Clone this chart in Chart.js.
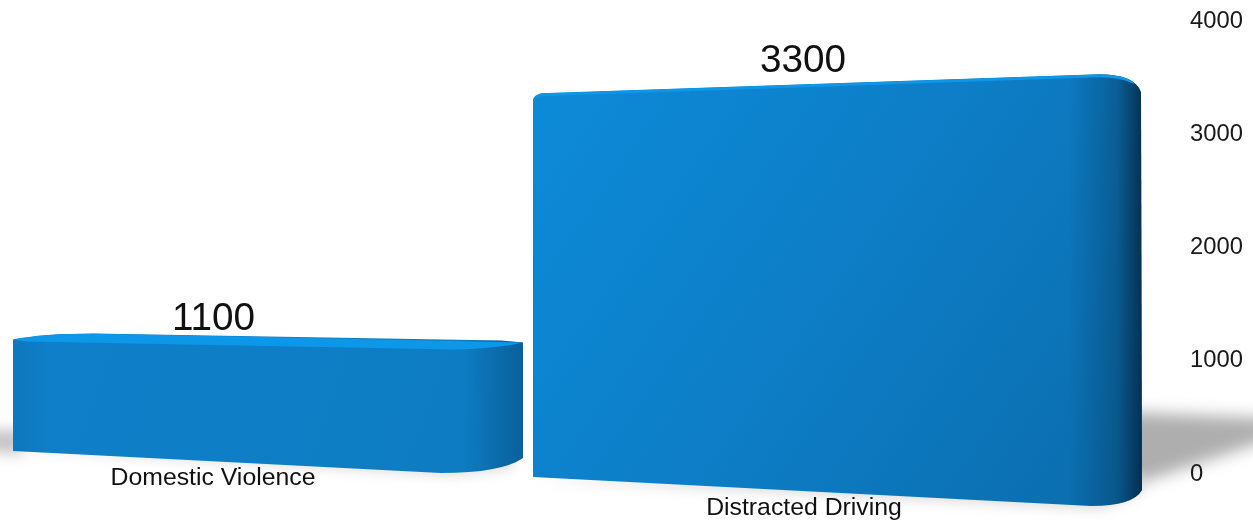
<!DOCTYPE html>
<html>
<head>
<meta charset="utf-8">
<script src="https://cdn.jsdelivr.net/npm/chart.js@4/dist/chart.umd.min.js"></script>
<style>
  html, body { margin: 0; padding: 0; background: #fff; overflow: hidden; }
  canvas { display: block; }
</style>
</head>
<body>
<canvas id="chart" width="1253" height="523"></canvas>
<script>
const categories = ["Domestic Violence", "Distracted Driving"];
const values = [1100, 3300];
const tickValues = [0, 1000, 2000, 3000, 4000];

const FONT = '"Liberation Sans", Arial, sans-serif';
const TEXT = "#1a1a1a";

// the picture is a tilted 3d render, so each bar gets its own outline around the scale position
function barOutline(ctx, i, el) {
  const T = el.y, B = el.base;
  ctx.beginPath();
  if (i === 0) {
    const L = el.x - 284.5, R = L + 510;
    ctx.moveTo(L, T - 10);
    ctx.quadraticCurveTo(L + 30, T - 16, L + 80, T - 16);
    ctx.lineTo(R - 22, T - 9);
    ctx.lineTo(R, T - 7);
    ctx.lineTo(R, B - 16);
    ctx.quadraticCurveTo(R - 22, B - 1, R - 82, B - 1);
    ctx.lineTo(L, B - 23);
    ctx.closePath();
    return { L, R };
  }
  const L = el.x - 359.5, R = L + 608;
  ctx.moveTo(L, B + 3);
  ctx.lineTo(L, T - 1);
  ctx.quadraticCurveTo(L + 1, T - 5, L + 8, T - 7);
  ctx.lineTo(R - 42, T - 26);
  ctx.quadraticCurveTo(R - 6, T - 26, R, T - 8);
  ctx.lineTo(R + 1, B + 16);
  ctx.quadraticCurveTo(R - 8, B + 32, R - 50, B + 32);
  ctx.closePath();
  return { L, R };
}

function paintBar(ctx, i, el) {
  const T = el.y, B = el.base;
  ctx.save();
  const { L, R } = barOutline(ctx, i, el);
  ctx.clip();

  const face = ctx.createLinearGradient(L, T - 20, R, B + 30);
  if (i === 0) {
    face.addColorStop(0, "#0e7fc9");
    face.addColorStop(1, "#0d7cc2");
  } else {
    face.addColorStop(0, "#0d8bd8");
    face.addColorStop(0.5, "#0d7dc6");
    face.addColorStop(1, "#0b6cac");
  }
  ctx.fillStyle = face;
  ctx.fillRect(L - 2, T - 40, R - L + 4, B - T + 80);

  // edges roll away from the light
  const edge = ctx.createLinearGradient(L, 0, R, 0);
  if (i === 0) {
    edge.addColorStop(0, "rgba(10,60,100,0.12)");
    edge.addColorStop(0.07, "rgba(10,60,100,0)");
    edge.addColorStop(0.88, "rgba(6,50,90,0)");
    edge.addColorStop(1, "rgba(6,50,90,0.38)");
  } else {
    edge.addColorStop(0, "rgba(0,30,60,0)");
    edge.addColorStop(0.88, "rgba(0,30,60,0)");
    edge.addColorStop(0.96, "rgba(3,30,50,0.28)");
    edge.addColorStop(1, "rgba(3,25,45,0.72)");
  }
  ctx.fillStyle = edge;
  ctx.fillRect(L - 2, T - 40, R - L + 4, B - T + 80);

  // lighter top face
  ctx.fillStyle = "#0d97e8";
  ctx.beginPath();
  if (i === 0) {
    ctx.moveTo(L, T - 10);
    ctx.quadraticCurveTo(L + 30, T - 16, L + 80, T - 16);
    ctx.lineTo(R, T - 7);
    ctx.quadraticCurveTo(R - 25, T - 1, R - 70, T);
    ctx.lineTo(L + 12, T - 8);
  } else {
    ctx.moveTo(L, T - 1);
    ctx.lineTo(L + 8, T - 7);
    ctx.lineTo(R - 42, T - 26);
    ctx.quadraticCurveTo(R - 12, T - 26, R - 6, T - 16);
    ctx.quadraticCurveTo(R - 20, T - 23, R - 42, T - 23);
    ctx.lineTo(L + 8, T - 4);
  }
  ctx.closePath();
  ctx.fill();
  ctx.restore();
}

function paintShadows(ctx, bars) {
  const right = bars[1].x + 248.5, left = bars[0].x - 284.5, base = bars[0].base;
  ctx.save();
  ctx.filter = "blur(8px)";
  ctx.fillStyle = "#aeaeae";
  ctx.beginPath();
  ctx.moveTo(right - 20, base - 62);
  ctx.lineTo(1290, base - 55);
  ctx.lineTo(1290, base - 41);
  ctx.lineTo(right - 20, base + 15);
  ctx.closePath();
  ctx.fill();

  ctx.filter = "blur(7px)";
  ctx.fillStyle = "#c4c4c4";
  ctx.beginPath();
  ctx.moveTo(left + 10, base - 44);
  ctx.lineTo(-30, base - 44);
  ctx.lineTo(-30, base - 24);
  ctx.lineTo(left + 10, base - 20);
  ctx.closePath();
  ctx.fill();

  ctx.filter = "blur(6px)";
  ctx.fillStyle = "#dedede";
  ctx.beginPath();
  ctx.moveTo(left, base - 24);
  ctx.lineTo(left + 440, base + 2);
  ctx.lineTo(left + 500, base - 5);
  ctx.lineTo(left + 500, base - 30);
  ctx.closePath();
  ctx.fill();

  ctx.beginPath();
  ctx.moveTo(bars[1].x - 359.5, base + 6);
  ctx.lineTo(right - 40, base + 36);
  ctx.lineTo(right, base + 20);
  ctx.lineTo(right, base);
  ctx.closePath();
  ctx.fill();
  ctx.restore();
}

const tiltedBars = {
  id: "tiltedBars",
  beforeDatasetDraw(chart, args) {
    const ctx = chart.ctx;
    const bars = args.meta.data;
    paintShadows(ctx, bars);
    bars.forEach((el, i) => paintBar(ctx, i, el));
    return false;
  },
  afterDatasetsDraw(chart) {
    const ctx = chart.ctx;
    const bars = chart.getDatasetMeta(0).data;
    const valueShift = [-84, -89.5];
    const valueLift = [-30, -39];
    const catShift = [-84.5, -88.5];
    const catDrop = [4, 34];
    ctx.save();
    ctx.textAlign = "center";
    ctx.textBaseline = "middle";
    ctx.fillStyle = "#111";
    bars.forEach((el, i) => {
      ctx.font = "38.7px " + FONT;
      ctx.fillText(String(values[i]), el.x + valueShift[i], el.y + valueLift[i]);
      ctx.font = "24.8px " + FONT;
      ctx.fillText(categories[i], el.x + catShift[i], el.base + catDrop[i]);
    });
    ctx.restore();
  }
};

new Chart(document.getElementById("chart"), {
  type: "bar",
  plugins: [tiltedBars],
  data: {
    labels: categories,
    datasets: [{ data: values, backgroundColor: "#0d7dc6", borderWidth: 0 }]
  },
  options: {
    responsive: false,
    animation: false,
    layout: { padding: { top: 21, bottom: 49, left: 0, right: 0 } },
    plugins: { legend: { display: false }, tooltip: { enabled: false } },
    scales: {
      x: { display: false },
      y: {
        position: "right",
        min: 0,
        max: 4000,
        afterBuildTicks: scale => { scale.ticks = tickValues.map(v => ({ value: v })); },
        afterFit: scale => { scale.width = 63; },
        grid: { display: false, drawTicks: false },
        border: { display: false },
        ticks: {
          z: 1,
          padding: 0,
          color: TEXT,
          font: { family: FONT, size: 23.8 },
          callback: v => String(v)
        }
      }
    }
  }
});
</script>
</body>
</html>
